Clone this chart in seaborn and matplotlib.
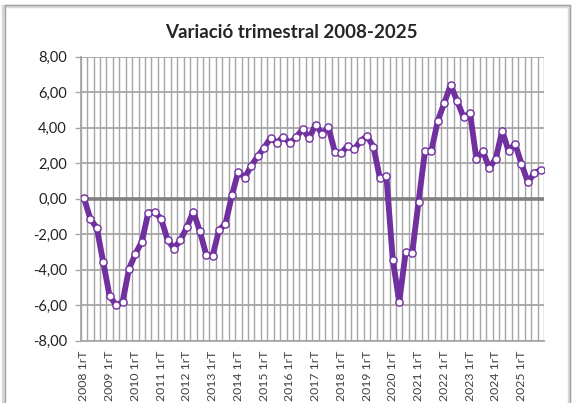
import matplotlib
matplotlib.use("Agg")
import matplotlib.pyplot as plt
import seaborn as sns
import pandas as pd
import numpy as np
from matplotlib.ticker import FixedLocator, FuncFormatter
from matplotlib.patches import Rectangle

title = "Variació trimestral 2008-2025"
years = list(range(2008, 2026))
quarter_names = ["1rT", "2nT", "3rT", "4tT"]
categories = [f"{y} {q}" for y in years for q in quarter_names]

values = [
    0.05, -1.14, -1.65, -3.58, -5.50, -5.99, -5.84, -3.97,
    -3.11, -2.43, -0.79, -0.75, -1.14, -2.32, -2.81, -2.34,
    -1.61, -0.73, -1.82, -3.15, -3.22, -1.76, -1.42, 0.19,
    1.53, 1.18, 1.85, 2.38, 2.87, 3.41, 3.16, 3.48,
    3.13, 3.47, 3.92, 3.41, 4.17, 3.67, 4.01, 2.64,
    2.58, 2.98, 2.77, 3.26, 3.52, 2.92, 1.14, 1.29,
    -3.44, -5.82, -3.03, -3.09, -0.19, 2.68, 2.71, 4.40,
    5.39, 6.40, 5.51, 4.59, 4.83, 2.23, 2.68, 1.72,
    2.25, 3.82, 2.68, 3.09, 1.97, 0.92, 1.44, 1.61,
]

df = pd.DataFrame({"idx": np.arange(len(values)), "categoria": categories, "valor": values})

sns.set_theme(style="white")
plt.rcParams["font.family"] = ["Lato", "DejaVu Sans"]

fig = plt.figure(figsize=(5.76, 4.03), dpi=100)
ax = fig.add_axes([80.7 / 576, 1 - 340.6 / 403, (544 - 80.7) / 576, (340.6 - 56.7) / 403])

grid_c = "#A6A6A6"
purple = "#7030A0"

sns.lineplot(data=df, x="idx", y="valor", ax=ax, color=purple, linewidth=4.2,
             marker="o", markersize=5.2, markerfacecolor="white",
             markeredgecolor=purple, markeredgewidth=1.0, zorder=5)

n = len(values)
ax.set_xlim(-0.5, n - 0.5)
ax.set_ylim(-8, 8)

# horizontal gridlines
ax.set_yticks(np.arange(-8, 9, 2))
ax.yaxis.set_major_formatter(FuncFormatter(lambda v, p: f"{v:.2f}".replace(".", ",")))
ax.grid(axis="y", which="major", color=grid_c, linewidth=1.3, zorder=0)

# vertical gridlines at category boundaries
ax.xaxis.set_minor_locator(FixedLocator(np.arange(-0.5, n, 1.0)))
ax.grid(axis="x", which="minor", color=grid_c, linewidth=1.0, zorder=0)
ax.grid(axis="x", which="major", visible=False)

tick_pos = list(range(0, n, 4))
ax.set_xticks(tick_pos)
ax.set_xticklabels([categories[i] for i in tick_pos], rotation=90, fontsize=8.8, color="#404040")
ax.tick_params(axis="x", which="both", length=0, pad=7)
ax.tick_params(axis="y", which="major", length=4, width=1, color=grid_c, direction="out",
               labelsize=10.5, labelcolor="#222222", pad=6, left=True)

ax.axhline(0, color="#808080", linewidth=2.6, zorder=2)

for s in ["top", "right"]:
    ax.spines[s].set_visible(False)
for s in ["left", "bottom"]:
    ax.spines[s].set_color(grid_c)
    ax.spines[s].set_linewidth(1.3)

ax.set_xlabel("")
ax.set_ylabel("")

fig.text(291 / 576, 1 - 33 / 403, title, ha="center", va="center",
         fontsize=13.5, fontweight="bold", color="#262626")

# chart border with slight shadow
fig.patches.append(Rectangle((3.0 / 576, -0.1), (569 - 3.0) / 576, 1.1 - 6.5 / 403,
                             transform=fig.transFigure, fill=False, edgecolor="#D8D8D8",
                             linewidth=2.5, zorder=-1))
fig.patches.append(Rectangle((4.5 / 576, -0.1), (570 - 4.5) / 576, 1.1 - 5 / 403,
                             transform=fig.transFigure, fill=False, edgecolor="#A0A0A0",
                             linewidth=1.0))

fig.savefig("out.png", dpi=100, facecolor="white")
